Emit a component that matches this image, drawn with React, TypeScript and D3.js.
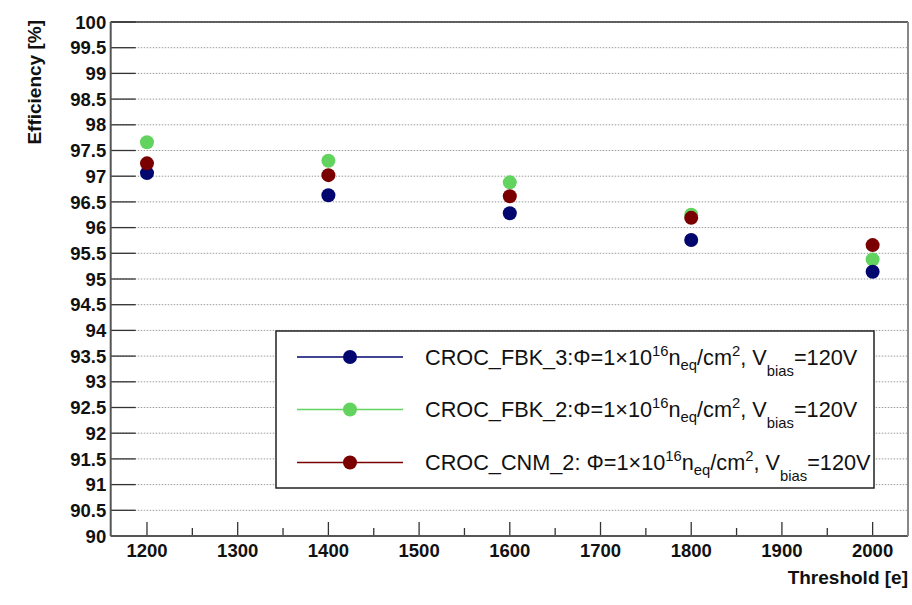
import React from "react";
import * as d3 from "d3";

const thresholds = [1200, 1400, 1600, 1800, 2000];
const fbk3 = [97.06, 96.63, 96.28, 95.76, 95.14];
const fbk2 = [97.66, 97.3, 96.88, 96.25, 95.38];
const cnm2 = [97.25, 97.02, 96.61, 96.19, 95.66];

const yTicks = [90, 90.5, 91, 91.5, 92, 92.5, 93, 93.5, 94, 94.5, 95, 95.5, 96, 96.5, 97, 97.5, 98, 98.5, 99, 99.5, 100];
const xTicks = [1200, 1300, 1400, 1500, 1600, 1700, 1800, 1900, 2000];
const xMinorTicks = [1250, 1350, 1450, 1550, 1650, 1750, 1850, 1950];

const seriesNames = ["CROC_FBK_3:", "CROC_FBK_2:", "CROC_CNM_2: "];
const seriesColors = ["#02066f", "#63d35f", "#7a0000"];
const seriesValues = [fbk3, fbk2, cnm2];
const drawOrder = [1, 0, 2];

const W = 912;
const H = 605;
const L = 110.7;
const R = 908;
const T = 22;
const B = 536;

export default function App() {
  const x = d3.scaleLinear().domain([1160, 2039]).range([L, R]);
  const y = d3.scaleLinear().domain([90, 100]).range([B, T]);
  const font = "'Liberation Sans', Arial, Helvetica, sans-serif";

  const legend = { x0: 276, y0: 331, x1: 874, y1: 488 };
  const rowY = [357, 409.5, 462.5];

  return (
    <svg
      width={W}
      height={H}
      style={{ position: "absolute", left: 0, top: 0, background: "#fff" }}
      fontFamily={font}
    >
      <rect x={0} y={0} width={W} height={H} fill="#fff" />
      {/* grid */}
      {yTicks.map((t) => (
        <line
          key={"g" + t}
          x1={L}
          x2={R}
          y1={y(t)}
          y2={y(t)}
          stroke="#9a9a9a"
          strokeWidth={1}
          strokeDasharray="1.5,1.5"
        />
      ))}
      {/* y ticks */}
      {yTicks.map((t) => (
        <line key={"yt" + t} x1={L} x2={L + 25} y1={y(t)} y2={y(t)} stroke="#333" strokeWidth={1.3} />
      ))}
      {yTicks.map((t) => (
        <text
          key={"yl" + t}
          x={L - 4.5}
          y={y(t)}
          dy="0.36em"
          textAnchor="end"
          fontSize={18.5}
          fontWeight="bold"
          fill="#111"
        >
          {String(t)}
        </text>
      ))}
      {/* x ticks */}
      {xTicks.map((t) => (
        <line key={"xt" + t} x1={x(t)} x2={x(t)} y1={B} y2={B - 14} stroke="#333" strokeWidth={1.3} />
      ))}
      {xMinorTicks.map((t) => (
        <line key={"xm" + t} x1={x(t)} x2={x(t)} y1={B} y2={B - 8} stroke="#333" strokeWidth={1.3} />
      ))}
      {xTicks.map((t) => (
        <text
          key={"xl" + t}
          x={x(t)}
          y={557}
          textAnchor="middle"
          fontSize={18.5}
          fontWeight="bold"
          fill="#111"
        >
          {String(t)}
        </text>
      ))}
      {/* frame */}
      <line x1={L} x2={R} y1={T} y2={T} stroke="#333" strokeWidth={1.3} />
      <line x1={L} x2={R} y1={B} y2={B} stroke="#555" strokeWidth={2} />
      <line x1={L} x2={L} y1={T} y2={B} stroke="#555" strokeWidth={2} />
      <line x1={R} x2={R} y1={T} y2={B} stroke="#888" strokeWidth={2} />

      {/* axis titles */}
      <text
        transform={`translate(41,${T - 2}) rotate(-90)`}
        textAnchor="end"
        fontSize={19}
        fontWeight="bold"
        fill="#111"
      >
        Efficiency [%]
      </text>
      <text x={R} y={584} textAnchor="end" fontSize={19} fontWeight="bold" fill="#111">
        Threshold [e]
      </text>

      {/* points */}
      {drawOrder.map((si) => (
        <g key={"s" + si}>
          {thresholds.map((t, i) => (
            <circle key={i} cx={x(t)} cy={y(seriesValues[si][i])} r={7} fill={seriesColors[si]} />
          ))}
        </g>
      ))}

      {/* legend */}
      <rect
        x={legend.x0}
        y={legend.y0}
        width={legend.x1 - legend.x0}
        height={legend.y1 - legend.y0}
        fill="#fff"
        stroke="#222"
        strokeWidth={1.5}
      />
      {seriesNames.map((name, i) => (
        <g key={"lg" + i}>
          <line x1={297} x2={403} y1={rowY[i]} y2={rowY[i]} stroke={seriesColors[i]} strokeWidth={1.5} />
          <circle cx={350} cy={rowY[i]} r={7} fill={seriesColors[i]} />
          <text x={425} y={rowY[i] + 7.5} fontSize={21.7} fill="#111">
            <tspan>{name}</tspan>
            <tspan>Φ=1×10</tspan>
            <tspan dy={-9} fontSize={14.8}>16</tspan>
            <tspan dy={9}>n</tspan>
            <tspan dy={5} fontSize={14.8}>eq</tspan>
            <tspan dy={-5}>/cm</tspan>
            <tspan dy={-9} fontSize={14.8}>2</tspan>
            <tspan dy={9}>, V</tspan>
            <tspan dy={11} fontSize={14.8}>bias</tspan>
            <tspan dy={-11}>=120V</tspan>
          </text>
        </g>
      ))}
    </svg>
  );
}
